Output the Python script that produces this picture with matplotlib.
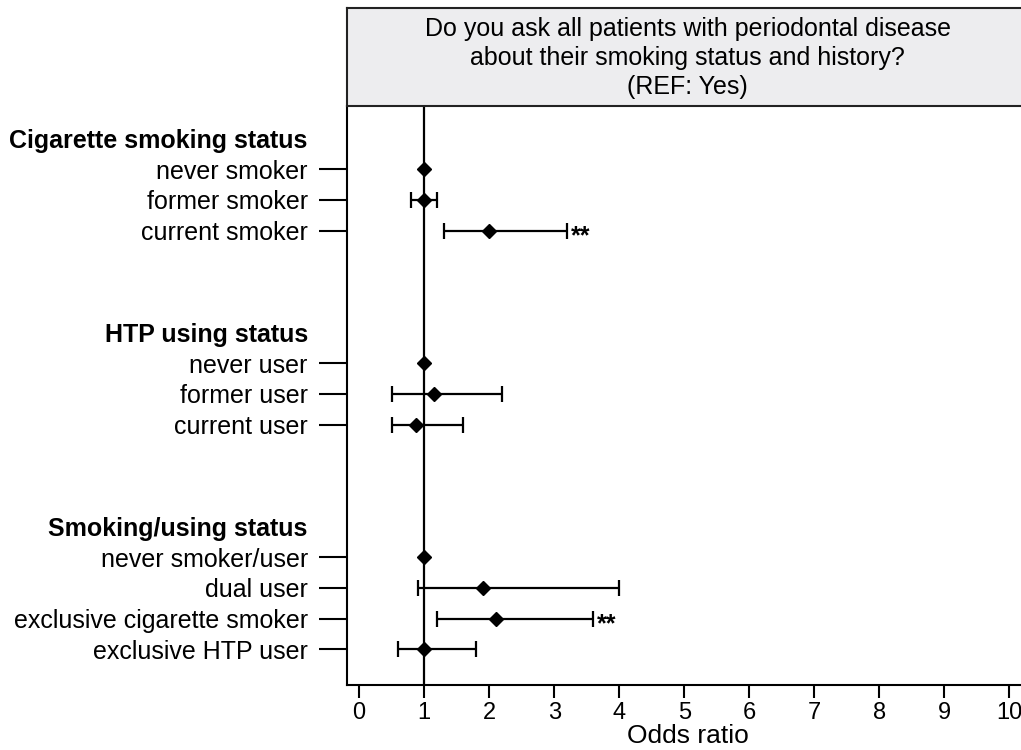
import numpy as np
import matplotlib
matplotlib.use("Agg")
import matplotlib.pyplot as plt

plt.rcParams['font.family'] = ['Liberation Sans', 'DejaVu Sans']

# ===== data =====
groups = ["Cigarette smoking status", "HTP using status", "Smoking/using status"]
labels = [
    ["never smoker", "former smoker", "current smoker"],
    ["never user", "former user", "current user"],
    ["never smoker/user", "dual user", "exclusive cigarette smoker", "exclusive HTP user"],
]
odds = [
    [1.0, 1.0, 2.0],
    [1.0, 1.15, 0.88],
    [1.0, 1.9, 2.1, 1.0],
]
lower = [
    [np.nan, 0.8, 1.3],
    [np.nan, 0.5, 0.5],
    [np.nan, 0.9, 1.2, 0.6],
]
upper = [
    [np.nan, 1.2, 3.2],
    [np.nan, 2.2, 1.6],
    [np.nan, 4.0, 3.6, 1.8],
]
signif = [
    ["", "", "**"],
    ["", "", ""],
    ["", "", "**", ""],
]
title = "Do you ask all patients with periodontal disease\nabout their smoking status and history?\n(REF: Yes)"

# ===== layout =====
group_gap = 6.32
fig = plt.figure(figsize=(10.21, 7.5), dpi=100)
ax = fig.add_axes([0.3396, 0.0867, 1.0078 - 0.3396, 0.8591 - 0.0867])
tax = fig.add_axes([0.3396, 0.8591, 1.0078 - 0.3396, 0.9893 - 0.8591])

ytick_pos, ytick_lab, is_header = [], [], []
for g, name in enumerate(groups):
    base = g * group_gap
    ytick_pos.append(base - 1)
    ytick_lab.append(name)
    is_header.append(True)
    for i, lab in enumerate(labels[g]):
        y = base + i
        ytick_pos.append(y)
        ytick_lab.append(lab)
        is_header.append(False)
        o, lo, hi = odds[g][i], lower[g][i], upper[g][i]
        if not np.isnan(lo):
            ax.errorbar(o, y, xerr=[[o - lo], [hi - o]], fmt='none', ecolor='black',
                        elinewidth=1.6, capsize=6, capthick=1.6, zorder=3)
        ax.plot(o, y, marker='D', color='black', markersize=7.5, zorder=4)
        if signif[g][i]:
            ax.text(hi + 0.05, y + 0.2, signif[g][i], fontsize=18, fontweight='bold',
                    va='center', ha='left')

ax.axvline(1, color='black', lw=1.6, zorder=2)

ax.set_xlim(-0.19, 10.3)
ax.set_ylim(16.8, -2.07)
ax.set_xticks(range(0, 11))
ax.tick_params(axis='x', length=9, width=1.5, labelsize=17, pad=3)
ax.set_xlabel("Odds ratio", fontsize=19, va='baseline')
ax.xaxis.set_label_coords(0.5, -0.101)

ax.set_yticks(ytick_pos)
ax.set_yticklabels(ytick_lab, fontsize=18)
ax.tick_params(axis='y', length=20, width=1.5, pad=8)
for tick, hdr in zip(ax.yaxis.get_major_ticks(), is_header):
    if hdr:
        tick.tick1line.set_visible(False)
        tick.label1.set_fontweight('bold')

for s in ['top', 'right']:
    ax.spines[s].set_visible(False)
for s in ['left', 'bottom']:
    ax.spines[s].set_linewidth(1.5)

# title strip
tax.set_facecolor('#ededef')
tax.set_xticks([])
tax.set_yticks([])
for s in tax.spines.values():
    s.set_linewidth(1.5)
    s.set_color('#222222')
tax.text(0.5, 0.49, title, ha='center', va='center', fontsize=18,
         linespacing=1.25, transform=tax.transAxes)

fig.savefig("out.png", dpi=100)
